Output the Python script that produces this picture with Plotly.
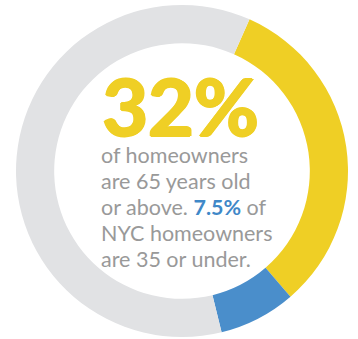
import plotly.graph_objects as go

# Age groups of NYC homeowners (share of all homeowners, %)
groups = ["65 and older", "35 and under", "Other ages"]
shares = [32, 7.5, 60.5]
colors = ["#EFCF25", "#4A8ECB", "#E1E2E4"]

headline = "32%"
body_lines = [
    "of homeowners",
    "are 65 years old",
    "or above. <b><span style='color:#3F88C8'>7.5%</span></b> of",
    "NYC homeowners",
    "are 35 or under.",
]

W, H = 358, 339

fig = go.Figure(
    go.Pie(
        labels=groups,
        values=shares,
        marker=dict(colors=colors, line=dict(width=0)),
        hole=0.77,
        sort=False,
        direction="clockwise",
        rotation=24,
        textinfo="none",
        hoverinfo="label+percent",
        domain=dict(x=[16 / W, 348 / W], y=[2 / H, 334 / H]),
    )
)


def py(y_px):
    return 1 - y_px / H


yellow = "#EFCF25"
# extra-heavy headline: bold face widened by a thin same-colour shadow
heavy = ", ".join(f"{dx}px {dy}px 0 {yellow}" for dx, dy in
                  [(1, 0), (-1, 0), (0, 1), (0, -1), (1.5, 0)])

annotations = [
    dict(
        text=f"<b>{headline}</b>",
        x=101 / W, y=py(105), xref="paper", yref="paper",
        xanchor="left", yanchor="middle", showarrow=False,
        font=dict(family="Lato", size=79, color=yellow, weight=900,
                  shadow=heavy),
        height=66, valign="middle",
        borderpad=0,
    )
]
line_mid = [155, 181, 207, 233, 259]
for txt, y in zip(body_lines, line_mid):
    annotations.append(
        dict(
            text=txt,
            x=100 / W, y=py(y), xref="paper", yref="paper",
            xanchor="left", yanchor="middle", showarrow=False,
            font=dict(family="Lato", size=21.5, color="#999999"),
            borderpad=0,
        )
    )

fig.update_layout(
    width=W, height=H,
    margin=dict(l=0, r=0, t=0, b=0),
    paper_bgcolor="white",
    plot_bgcolor="white",
    showlegend=False,
    annotations=annotations,
)

fig.write_html("out.html")
